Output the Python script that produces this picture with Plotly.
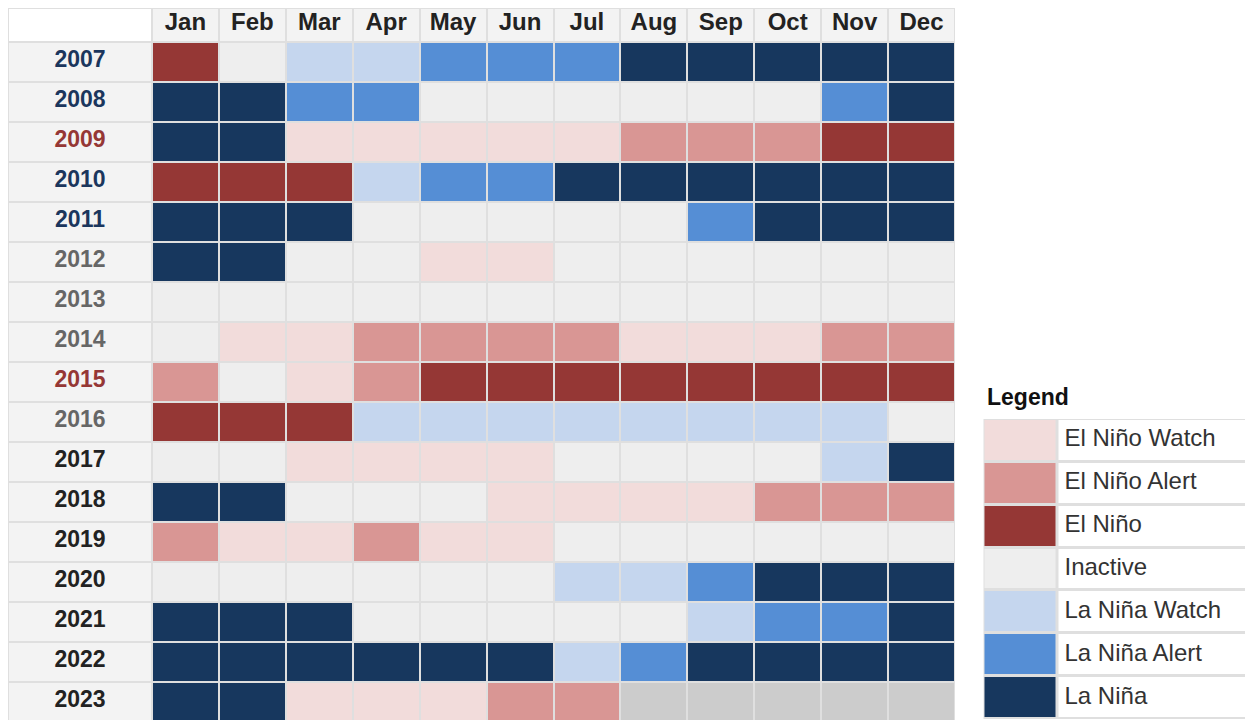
import plotly.graph_objects as go

# ---------------- data ----------------
months = ["Jan", "Feb", "Mar", "Apr", "May", "Jun", "Jul", "Aug", "Sep", "Oct", "Nov", "Dec"]
years = [str(y) for y in range(2007, 2024)]

# status per year / month
# W = El Niño Watch, A = El Niño Alert, E = El Niño, I = Inactive,
# w = La Niña Watch, a = La Niña Alert, L = La Niña, N = no data yet
status = {
    "2007": ["E", "I", "w", "w", "a", "a", "a", "L", "L", "L", "L", "L"],
    "2008": ["L", "L", "a", "a", "I", "I", "I", "I", "I", "I", "a", "L"],
    "2009": ["L", "L", "W", "W", "W", "W", "W", "A", "A", "A", "E", "E"],
    "2010": ["E", "E", "E", "w", "a", "a", "L", "L", "L", "L", "L", "L"],
    "2011": ["L", "L", "L", "I", "I", "I", "I", "I", "a", "L", "L", "L"],
    "2012": ["L", "L", "I", "I", "W", "W", "I", "I", "I", "I", "I", "I"],
    "2013": ["I", "I", "I", "I", "I", "I", "I", "I", "I", "I", "I", "I"],
    "2014": ["I", "W", "W", "A", "A", "A", "A", "W", "W", "W", "A", "A"],
    "2015": ["A", "I", "W", "A", "E", "E", "E", "E", "E", "E", "E", "E"],
    "2016": ["E", "E", "E", "w", "w", "w", "w", "w", "w", "w", "w", "I"],
    "2017": ["I", "I", "W", "W", "W", "W", "I", "I", "I", "I", "w", "L"],
    "2018": ["L", "L", "I", "I", "I", "W", "W", "W", "W", "A", "A", "A"],
    "2019": ["A", "W", "W", "A", "W", "W", "I", "I", "I", "I", "I", "I"],
    "2020": ["I", "I", "I", "I", "I", "I", "w", "w", "a", "L", "L", "L"],
    "2021": ["L", "L", "L", "I", "I", "I", "I", "I", "w", "a", "a", "L"],
    "2022": ["L", "L", "L", "L", "L", "L", "w", "a", "L", "L", "L", "L"],
    "2023": ["L", "L", "W", "W", "W", "A", "A", "N", "N", "N", "N", "N"],
}

# year label colour class: "la" = La Niña year, "el" = El Niño year, "neu" = neutral, "rec" = recent
year_class = ["la", "la", "el", "la", "la", "neu", "neu", "neu", "el", "neu",
              "rec", "rec", "rec", "rec", "rec", "rec", "rec"]

legend_codes = ["W", "A", "E", "I", "w", "a", "L"]
legend_labels = ["El Niño Watch", "El Niño Alert", "El Niño", "Inactive",
                 "La Niña Watch", "La Niña Alert", "La Niña"]

# ---------------- styles ----------------
code_order = ["W", "A", "E", "I", "w", "a", "L", "N", "H", "B"]
code_colors = ["#f2dcdb", "#d99694", "#953735", "#eeeeee", "#c5d6ee",
               "#558ed5", "#17375e", "#cccccc", "#f3f3f3", "#ffffff"]
code_idx = {c: i for i, c in enumerate(code_order)}
class_color = {"la": "#1b365d", "el": "#953735", "neu": "#666666", "rec": "#222222"}

n = len(code_order)
colorscale = []
for i, c in enumerate(code_colors):
    colorscale.append([i / n, c])
    colorscale.append([(i + 1) / n, c])

FONT = "Liberation Sans, Arial, sans-serif"
W, H = 1245, 712   # page body adds an 8px margin

# ---------------- main grid ----------------
label_w = 144 / (803 / 12)  # label column width in month units
x_edges = [-label_w] + list(range(0, 13))
y_top = -33.5 / 40
y_edges = [y_top] + list(range(0, 18))

z = [[code_idx["B"]] + [code_idx["H"]] * 12]
for yr in years:
    z.append([code_idx["H"]] + [code_idx[s] for s in status[yr]])

fig = go.Figure()
fig.add_trace(go.Heatmap(
    z=z, x=x_edges, y=y_edges, colorscale=colorscale, zmin=-0.5, zmax=n - 0.5,
    showscale=False, xgap=2, ygap=2, hoverinfo="skip", xaxis="x", yaxis="y",
))

# month header labels
fig.add_trace(go.Scatter(
    x=[i + 0.5 for i in range(12)], y=[-0.45] * 12, mode="text", text=months,
    textfont=dict(family=FONT, size=24, color="#222222", weight="bold"),
    hoverinfo="skip", showlegend=False, xaxis="x", yaxis="y",
))
# year labels
fig.add_trace(go.Scatter(
    x=[-label_w / 2] * len(years), y=[k + 0.5 for k in range(len(years))],
    mode="text", text=years,
    textfont=dict(family=FONT, size=23, color=[class_color[c] for c in year_class], weight="bold"),
    hoverinfo="skip", showlegend=False, xaxis="x", yaxis="y",
))

# ---------------- legend grid ----------------
lz = [[code_idx[c], code_idx["B"]] for c in legend_codes]
fig.add_trace(go.Heatmap(
    z=lz, x=[0, 74, 280], y=list(range(0, 8)), colorscale=colorscale,
    zmin=-0.5, zmax=n - 0.5, showscale=False, xgap=3, ygap=3,
    hoverinfo="skip", xaxis="x2", yaxis="y2",
))
fig.add_trace(go.Scatter(
    x=[81] * len(legend_labels), y=[i + 0.5 for i in range(len(legend_labels))],
    mode="text", text=legend_labels, textposition="middle right",
    textfont=dict(family=FONT, size=24, color="#333333"),
    hoverinfo="skip", showlegend=False, xaxis="x2", yaxis="y2",
))

ax_common = dict(showgrid=False, zeroline=False, showticklabels=False, ticks="",
                 fixedrange=True, showline=False)
fig.update_layout(
    width=W, height=H, margin=dict(l=0, r=0, t=0, b=0),
    paper_bgcolor="#ffffff", plot_bgcolor="#dfdfdf", showlegend=False,
    xaxis=dict(domain=[0, 947 / W], range=[-label_w, 12], **ax_common),
    yaxis=dict(domain=[0, 1], range=[(H - 33.5) / 40, y_top], **ax_common),
    xaxis2=dict(domain=[975.5 / W, 1], range=[0, 269.5], anchor="y2", **ax_common),
    yaxis2=dict(domain=[1 / H, (H - 411) / H], range=[7.0, 0.0], anchor="x2", **ax_common),
    annotations=[dict(
        text="<b>Legend</b>", x=977 / W, y=(H - 389) / H, xref="paper", yref="paper",
        xanchor="left", yanchor="middle", showarrow=False,
        font=dict(family=FONT, size=23, color="#111111"),
    )],
)

fig.write_html("out.html")
